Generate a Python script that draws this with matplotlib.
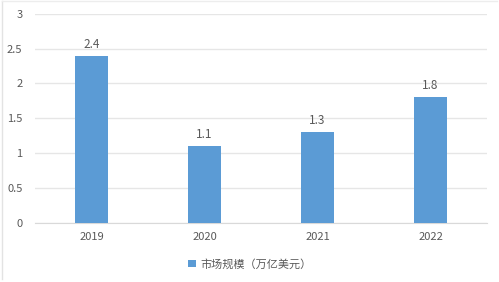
import matplotlib
matplotlib.use('Agg')
import matplotlib.pyplot as plt
from matplotlib.lines import Line2D

plt.rcParams['font.family'] = ['Noto Sans CJK SC', 'DejaVu Sans']

years = ['2019', '2020', '2021', '2022']
market_size = [2.4, 1.1, 1.3, 1.8]
series_name = '市场规模（万亿美元）'
y_ticks = [0, 0.5, 1, 1.5, 2, 2.5, 3]
y_tick_labels = ['0', '0.5', '1', '1.5', '2', '2.5', '3']

bar_color = '#5B9BD5'
text_color = '#595959'
grid_color = '#E6E6E6'

fig = plt.figure(figsize=(4.99, 2.82), dpi=100)
ax = fig.add_axes([35 / 499, 1 - 222.7 / 282, 452 / 499, (222.7 - 13.7) / 282])

x = list(range(len(years)))
bars = ax.bar(x, market_size, width=0.285, color=bar_color, label=series_name, zorder=3)
for xi, v in zip(x, market_size):
    ax.text(xi, v + 0.07, f'{v}', ha='center', va='bottom', fontsize=8.5, color=text_color)

ax.set_xlim(-0.5, len(years) - 0.5)
ax.set_ylim(0, 3)
ax.set_yticks(y_ticks)
ax.set_yticklabels(y_tick_labels)
ax.set_xticks(x)
ax.set_xticklabels(years)
ax.tick_params(axis='both', length=0, labelsize=8, colors=text_color)
ax.tick_params(axis='y', pad=9)
ax.tick_params(axis='x', pad=7)
ax.grid(axis='y', color=grid_color, linewidth=1, zorder=0)
for side in ['top', 'right', 'left']:
    ax.spines[side].set_visible(False)
ax.spines['bottom'].set_color('#D9D9D9')

leg = fig.legend(loc='center', bbox_to_anchor=(0.5, 1 - 264 / 282), frameon=False,
                 fontsize=8, handlelength=0.7, handleheight=0.7, handletextpad=0.4)
for t in leg.get_texts():
    t.set_color(text_color)

# faint frame on the left and top edges only
fig.lines.append(Line2D([0.005, 0.005], [0.01, 0.995], transform=fig.transFigure,
                        color='#E3E3E3', linewidth=1))
fig.lines.append(Line2D([0.005, 0.995], [0.995, 0.995], transform=fig.transFigure,
                        color='#EDEDED', linewidth=1))

fig.savefig('out.png', dpi=100)
